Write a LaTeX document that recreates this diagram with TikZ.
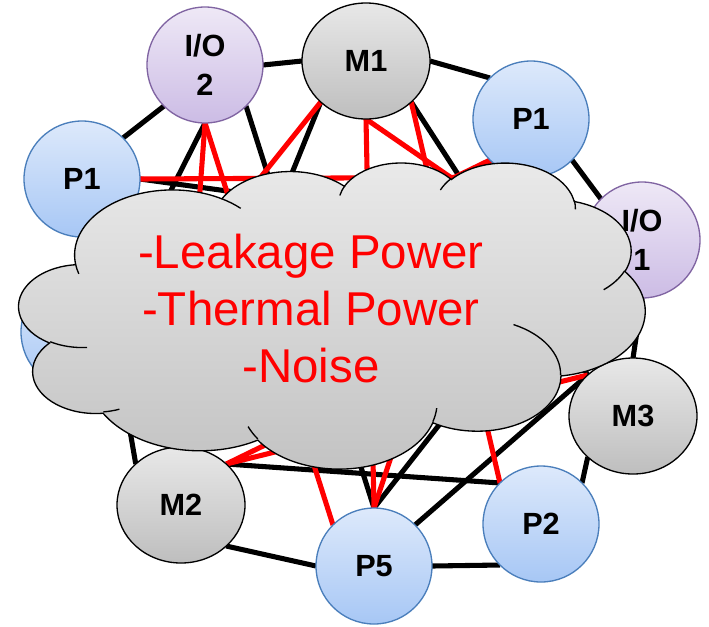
\documentclass[tikz,border=0pt]{standalone}
\usepackage{fontspec}
\setmainfont{Liberation Sans}
\usetikzlibrary{shapes.geometric,backgrounds}
\definecolor{pline}{HTML}{4A7EBB}
\definecolor{ptop}{HTML}{DDE9FB}
\definecolor{pbot}{HTML}{A7C7F5}
\definecolor{ioline}{HTML}{8064A2}
\definecolor{iotop}{HTML}{EEE8F6}
\definecolor{iobot}{HTML}{CCBCE5}
\definecolor{mtop}{HTML}{E8E8E8}
\definecolor{mbot}{HTML}{BEBEBE}
\definecolor{ctop}{HTML}{EAEAEA}
\definecolor{cbot}{HTML}{C2C2C2}
\tikzset{
  proc/.style={draw=pline, circle, top color=ptop, bottom color=pbot, minimum size=87pt,
    inner sep=0pt, outer sep=0pt, line width=1pt, align=center,
    font=\fontsize{23}{29}\selectfont\bfseries},
  iop/.style={proc, draw=ioline, top color=iotop, bottom color=iobot},
  mem/.style={proc, ellipse, draw=black, top color=mtop, bottom color=mbot,
    minimum width=96pt, minimum height=87pt},
  wire/.style={line width=3.8pt},
  hot/.style={wire, red},
  puff/.style={draw, line width=1pt},
}

\begin{document}
\begin{tikzpicture}[x=0.75pt, y=-0.75pt]
  \useasboundingbox (0,0) rectangle (709,626);
  \node[iop]  (IOtwo)  at (205,65)  {I/O\\2};
  \node[mem]  (Mone)   at (366,61)  {M1};
  \node[proc] (Pright) at (531,119) {P1};
  \node[proc] (Pleft)  at (82,179)  {P1};
  \node[iop]  (IOone)  at (642,240) {I/O\\1};
  \node[proc] (Phid)   at (79,332)  {};
  \node[mem]  (Mthree) at (633,416) {M3};
  \node[mem]  (Mtwo)   at (181,505) {M2};
  \node[proc] (Pfive)  at (374,566) {P5};
  \node[proc] (Ptwo)   at (541,524) {P2};

  \begin{scope}[on background layer]
    \foreach \a/\b in {IOtwo.east/Mone.west, IOtwo.south west/Pleft.north east,
        Mone.east/Pright.north west, Pright.south east/IOone.north west,
        IOone.south/Mthree.north, Mthree.south west/Ptwo.north east,
        Ptwo.south west/Pfive.east, Pfive.west/Mtwo.south east,
        Mtwo.north west/Phid.south east, IOtwo.south/Phid.north east,
        IOtwo.south east/Pfive.north, Mone.south west/Mtwo.north,
        Mone.south east/Mthree.north west, Mthree.north west/Pfive.north east,
        Pfive.north/IOone.west, Mtwo.north east/Ptwo.north west,
        Pleft.east/IOone.west}
      \draw[wire] (\a) -- (\b);
    \foreach \a/\b in {Pleft.east/Pright.south, Pright.south west/Phid.east,
        IOtwo.south/Mtwo.north, IOtwo.south/Pfive.north west,
        Mone.south west/Phid.east, Mone.south/Pfive.north,
        Mone.south/IOone.south west, Mone.south east/Ptwo.north west,
        Pfive.north/Pright.south west, Mtwo.north east/IOone.south west,
        Mthree.north west/Mtwo.north east}
      \draw[hot] (\a) -- (\b);
  \end{scope}

  % cloud
  \begin{scope}[shift={(19,162)}, xscale=1.449, yscale=0.7083]
    \path[puff, top color=ctop, bottom color=cbot] (39,143.7)
      \foreach \a/\b/\st/\sw [evaluate=\st as \tA using {atan2(\a*sin(\st),\b*cos(\st))},
          evaluate=\sw as \tE using {\tA+mod(atan2(\a*sin(\st+\sw),\b*cos(\st+\sw))-\tA+720,360)}]
        in {67.53/91.90/-190.487/123.781, 53.33/72.67/-144.102/89.945,
            43.65/59.45/-145.808/99.723, 48.57/65.95/-130.986/117.242,
            53.33/72.73/-78.709/109.027, 67.75/92.20/-46.267/130.269,
            57.85/78.67/0.625/114.033, 67.52/92.15/22.452/115.173,
            77.20/105.43/66.243/75.711, 43.60/59.18/-274.942/146.736,
            43.45/59.45/-246.829/152.519}
        { arc[x radius=\a, y radius=\b, start angle=\tA, end angle=\tE] } -- cycle;
    \path[puff]
      \foreach \x/\y/\a/\b/\st/\sw [evaluate=\st as \tA using {atan2(\a*sin(\st),\b*cos(\st))},
          evaluate=\sw as \tE using {\tA+mod(atan2(\a*sin(\st+\sw),\b*cos(\st+\sw))-\tA+720,360)}]
        in {46.93/261.77/43.45/59.45/86.742/26.430, 69.28/348.99/43.60/59.18/73.610/11.447,
            164.78/390.90/67.52/92.15/137.624/14.081, 288.27/347.51/67.52/92.15/6.453/15.998,
            341.29/229.54/57.85/78.67/-70.292/70.917, 417.98/153.54/53.33/72.73/30.318/27.752,
            383.24/54.26/48.57/65.95/-13.744/14.851, 290.78/39.52/48.57/65.95/-149.181/18.185,
            221.41/47.20/43.65/59.45/-163.494/17.693, 140.00/51.92/67.53/91.90/-66.707/12.319,
            41.27/157.89/67.53/91.90/157.654/11.858}
        { (\x,\y) arc[x radius=\a, y radius=\b, start angle=\tA, end angle=\tE] };
  \end{scope}
  \node[text=red, align=center, font=\fontsize{35.6}{42.75}\selectfont] (noise) at (311,309)
    {-Leakage Power\\-Thermal Power\\-Noise};
\end{tikzpicture}
\end{document}
